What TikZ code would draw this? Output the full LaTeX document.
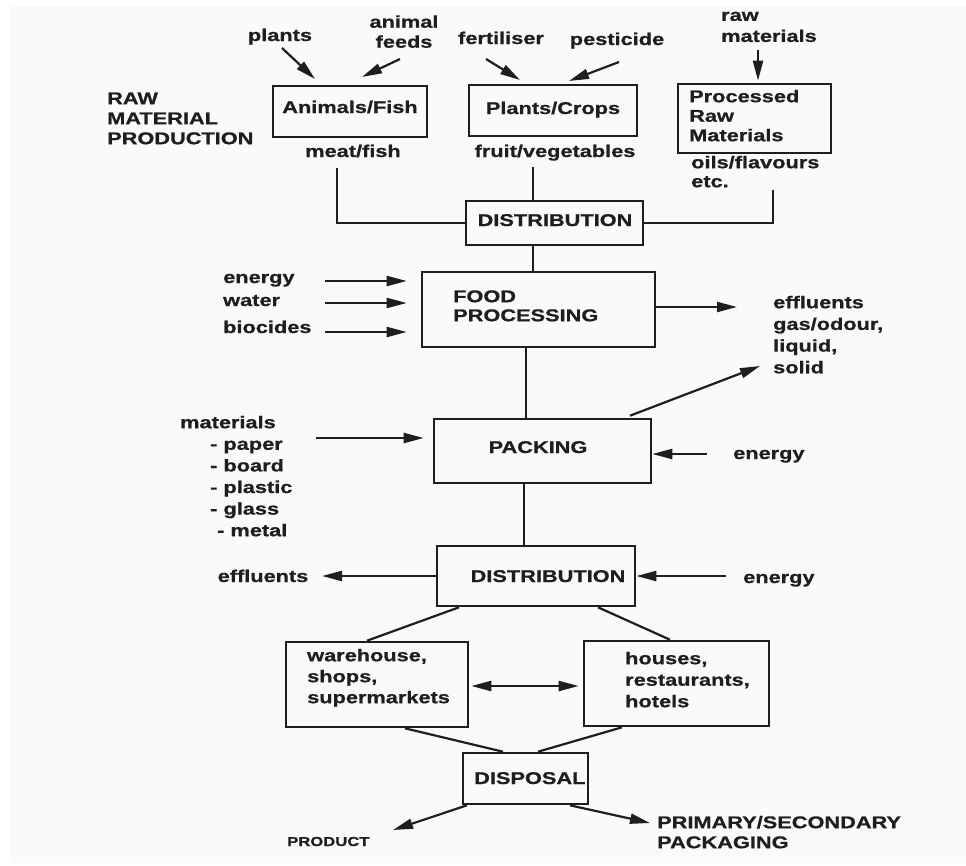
\documentclass[tikz,border=0pt]{standalone}
\usepackage{fontspec}
\setmainfont{Liberation Sans}
\newfontfamily\dfont[FakeStretch=1.28,FakeBold=0.8]{Liberation Sans}
\usetikzlibrary{arrows.meta}
\definecolor{bgc}{RGB}{250,250,250}
\definecolor{ink}{RGB}{30,30,30}
\newcommand{\firstrule}{\rule{0pt}{13pt}}
\begin{document}
\begin{tikzpicture}[x=1pt,y=-1pt,
  lb/.style={font=\dfont\bfseries\fontsize{17}{#1}\selectfont, text=ink, inner sep=0pt, align=left},
  lb/.default=21,
  box/.style={draw=ink, line width=2.6pt, inner sep=0pt},
  ln/.style={draw=ink, line width=2.2pt},
  arr/.style={ln, -{Triangle[length=20pt,width=10pt]}},
  dbl/.style={ln, {Triangle[length=20pt,width=10pt]}-{Triangle[length=20pt,width=10pt]}},
]
\useasboundingbox (0,0) rectangle (966,865);
\fill[white] (0,0) rectangle (966,865);
\fill[bgc] (9,6) rectangle (966,863);

% ---------- boxes ----------
\node[box, minimum width=154pt, minimum height=51pt] (af)  at (350,111.5) {};
\node[box, minimum width=168pt, minimum height=51pt] (pc)  at (553,110.5) {};
\node[box, minimum width=153pt, minimum height=69pt] (prm) at (754.5,118.5) {};
\node[box, minimum width=177pt, minimum height=44pt] (d1)  at (554.5,223) {};
\node[box, minimum width=233pt, minimum height=75pt] (fp)  at (538.5,309.5) {};
\node[box, minimum width=217pt, minimum height=64pt] (pk)  at (542.5,451) {};
\node[box, minimum width=198pt, minimum height=60pt] (d2)  at (536,576) {};
\node[box, minimum width=182pt, minimum height=85pt] (wh)  at (377,684.5) {};
\node[box, minimum width=185pt, minimum height=85pt] (ho)  at (676.5,683.5) {};
\node[box, minimum width=125pt, minimum height=51pt] (dp)  at (525.5,778.5) {};

% ---------- texts ----------
\node[lb, anchor=base] (tplants) at (280,41) {plants};
\node[lb=20, align=center, anchor=north] (tfeeds) at (404,14.5) {\firstrule animal\\feeds};
\node[lb, anchor=base] (tfert) at (501,44) {fertiliser};
\node[lb, anchor=base] (tpest) at (617,45) {pesticide};
\node[lb=21, anchor=north west] (trawm) at (721,7.7) {\firstrule raw\\materials};
\node[lb=20, anchor=north west] (trmp) at (107,91) {\firstrule RAW\\MATERIAL\\PRODUCTION};
\node[lb, anchor=base] (taf) at (350,113) {Animals/Fish};
\node[lb, anchor=base] (tpc) at (553,114) {Plants/Crops};
\node[lb=19.5, anchor=north west] (tprm) at (689,89) {\firstrule Processed\\Raw\\Materials};
\node[lb, anchor=base] (tmeat) at (353,157) {meat/fish};
\node[lb, anchor=base] (tfruit) at (555,157) {fruit/vegetables};
\node[lb=19, anchor=north west] (toils) at (691,155) {\firstrule oils/flavours\\etc.};
\node[lb, anchor=base] (td1) at (555,226) {DISTRIBUTION};
\node[lb, anchor=base west] (ten1) at (223,283) {energy};
\node[lb, anchor=base west] (twat) at (223,306) {water};
\node[lb, anchor=base west] (tbio) at (223,333) {biocides};
\node[lb=19, anchor=north west] (tfp) at (453,289) {\firstrule FOOD\\PROCESSING};
\node[lb=21.7, anchor=north west] (teff1) at (773,295) {\firstrule effluents\\gas/odour,\\liquid,\\solid};
\node[lb, anchor=base] (tpk) at (538,453) {PACKING};
\node[lb=21.6, anchor=north west] (tmat) at (180,415) {\firstrule materials\\\hspace*{30pt}- paper\\\hspace*{30pt}- board\\\hspace*{30pt}- plastic\\\hspace*{30pt}- glass\\\hspace*{37pt}- metal};
\node[lb, anchor=base west] (ten2) at (733,459) {energy};
\node[lb, anchor=base] (td2) at (548,582) {DISTRIBUTION};
\node[lb, anchor=base] (teff2) at (263,582) {effluents};
\node[lb, anchor=base west] (ten3) at (743,583) {energy};
\node[lb=21, anchor=north west] (twh) at (307,648) {\firstrule warehouse,\\shops,\\supermarkets};
\node[lb=21.5, anchor=north west] (tho) at (625,651) {\firstrule houses,\\restaurants,\\hotels};
\node[lb, anchor=base west] (tdp) at (474,784) {DISPOSAL};
\node[font=\dfont\bfseries\fontsize{13}{15}\selectfont, text=ink, inner sep=0pt, anchor=base west] (tprod) at (287,846) {PRODUCT};
\node[lb=20, anchor=north west] (tpkg) at (657,815) {\firstrule PRIMARY/SECONDARY\\PACKAGING};

% ---------- free ends ----------
\coordinate (plS) at (282,48);   \coordinate (plE) at (315,79);
\coordinate (afS) at (400,59);   \coordinate (afE) at (362,77);
\coordinate (feS) at (486,59);   \coordinate (feE) at (520,80);
\coordinate (peS) at (619,62);   \coordinate (peE) at (569,81);
\coordinate (rmS) at (758,50);
\coordinate (mfS) at (337,168);
\coordinate (fvS) at (533,167);
\coordinate (oeS) at (773,190);
\coordinate (e1S) at (325,281);
\coordinate (e2S) at (325,303);
\coordinate (e3S) at (325,332);
\coordinate (effE) at (737,307);
\coordinate (solE) at (760,366);
\coordinate (maS) at (316,438);
\coordinate (peK) at (707,454);
\coordinate (deS) at (726,576);
\coordinate (efE) at (322,576);
\coordinate (prE) at (393,830);
\coordinate (pgE) at (650,823);

% ---------- connectors ----------
\draw[arr] (plS) -- (plE);
\draw[arr] (afS) -- (afE);
\draw[arr] (feS) -- (feE);
\draw[arr] (peS) -- (peE);
\draw[arr, shorten >=2pt] (rmS) -- (rmS |- prm.north);
\draw[ln] (mfS) |- (d1.west);
\draw[ln] (fvS) -- (fvS |- d1.north);
\draw[ln] (oeS) |- (d1.east);
\draw[ln] (d1.south -| fvS) -- (fp.north -| fvS);
\draw[arr, shorten >=14pt] (e1S) -- (e1S -| fp.west);
\draw[arr, shorten >=14pt] (e2S) -- (e2S -| fp.west);
\draw[arr, shorten >=14pt] (e3S) -- (e3S -| fp.west);
\draw[arr] ([yshift=2.5pt]fp.east) -- (effE);
\draw[ln] ([xshift=-12.5pt]fp.south) -- ([xshift=-16.5pt]pk.north);
\draw[arr] ([xshift=87.5pt,yshift=2pt]pk.north) -- (solE);
\draw[arr, shorten >=9pt] (maS) -- (maS -| pk.west);
\draw[arr] (peK) -- (peK -| pk.east);
\draw[ln] ([xshift=-18.5pt]pk.south) -- ([xshift=-12pt]d2.north);
\draw[arr] (d2.west) -- (efE);
\draw[arr] (deS) -- (deS -| d2.east);
\draw[ln] ([xshift=-77pt]d2.south) -- ([xshift=-10pt]wh.north);
\draw[ln] ([xshift=62pt]d2.south) -- ([xshift=-6.5pt]ho.north);
\draw[dbl, shorten <=2pt, shorten >=4pt] ([yshift=-1.5pt]wh.east) -- ([yshift=-2.5pt]ho.west);
\draw[ln] ([xshift=28pt]wh.south) -- ([xshift=-22.5pt]dp.north);
\draw[ln] ([xshift=-54.5pt]ho.south) -- ([xshift=12.5pt]dp.north);
\draw[arr] ([xshift=-58.5pt]dp.south) -- (prE);
\draw[arr] ([xshift=44.5pt]dp.south) -- (pgE);
\end{tikzpicture}
\end{document}
